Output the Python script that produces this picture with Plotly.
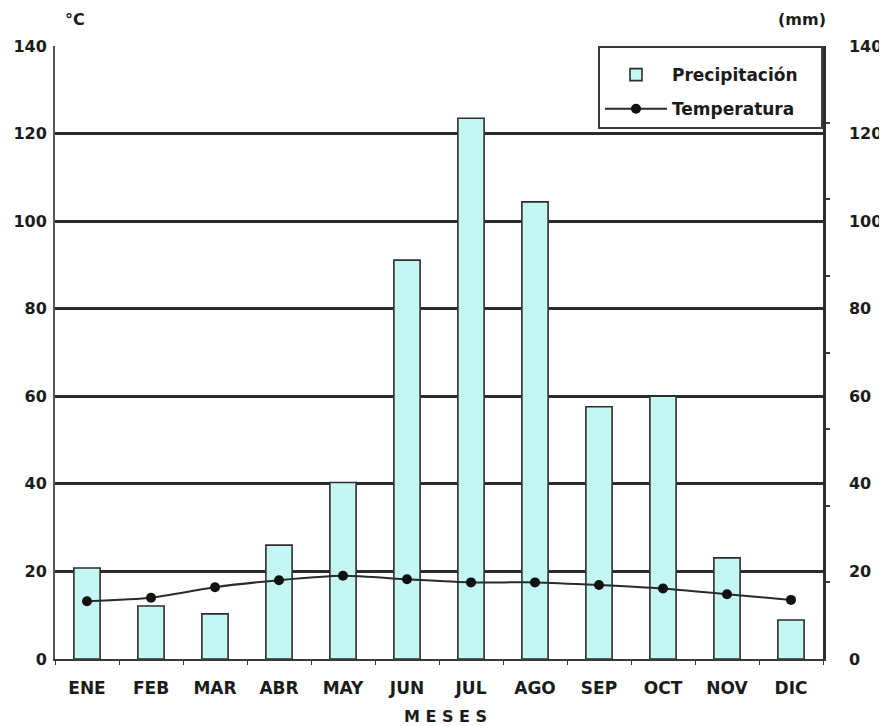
import plotly.graph_objects as go

meses = ["ENE", "FEB", "MAR", "ABR", "MAY", "JUN", "JUL", "AGO", "SEP", "OCT", "NOV", "DIC"]
precipitacion = [20.8, 12.1, 10.3, 26.0, 40.3, 91.1, 123.5, 104.4, 57.6, 60.0, 23.1, 8.9]
temperatura = [13.2, 14.0, 16.4, 18.0, 19.0, 18.2, 17.5, 17.5, 16.9, 16.1, 14.8, 13.5]
ticks_y = [0, 20, 40, 60, 80, 100, 120, 140]
ticks_menores_der = [17.5, 35, 52.5, 70, 87.5, 105, 122.5]

FONT = "DejaVu Sans"
DARK = "#1b1b1b"

# page has an 8px body margin; figure sized so that it fills the window
W, H = 879, 718
ML, MR, MT, MB = 47, 64, 38, 67
OFF = 8

fig = go.Figure()
fig.add_trace(go.Bar(
    x=meses, y=precipitacion, name="Precipitación\u00a0\u00a0\u00a0", legendgroup="p",
    marker=dict(color="#c4f6f3", line=dict(color="#2e2e2e", width=1.6)),
    width=0.41,
))
fig.add_trace(go.Scatter(
    x=meses, y=temperatura, name="Temperatura", mode="lines+markers", legendgroup="t",
    line=dict(color="#2a2a2a", width=2, shape="spline", smoothing=0.6),
    marker=dict(color="#111111", size=10),
))
fig.add_trace(go.Scatter(x=meses, y=[None] * 12, yaxis="y2", showlegend=False, hoverinfo="skip"))

tickfont = dict(family=FONT, size=16, color=DARK, weight="bold")
xtickfont = dict(family=FONT, size=17, color=DARK, weight="bold")

fig.update_layout(
    width=W, height=H,
    margin=dict(l=ML, r=MR, t=MT, b=MB, autoexpand=False),
    plot_bgcolor="white", paper_bgcolor="white",
    xaxis=dict(
        type="category", showgrid=False, showline=True, linecolor="#3a3a3a", linewidth=2,
        ticks="outside", tickson="boundaries", ticklen=4, tickcolor="#3a3a3a",
        tickfont=xtickfont, ticklabelstandoff=13, range=[-0.5, 11.5], automargin=False,
    ),
    yaxis=dict(
        range=[0, 140], tickvals=ticks_y, showgrid=True, gridcolor="#2b2b2b", gridwidth=3,
        showline=True, linecolor="#555555", linewidth=2, ticks="", zeroline=False,
        tickfont=tickfont, ticklabelstandoff=3, automargin=False,
    ),
    yaxis2=dict(
        range=[0, 140], overlaying="y", side="right", tickvals=ticks_y, showgrid=False,
        showline=True, linecolor="#2e2e2e", linewidth=2.5, ticks="", zeroline=False,
        tickfont=tickfont, ticklabelstandoff=20, automargin=False,
        minor=dict(tickvals=ticks_menores_der, ticks="outside", ticklen=4, tickcolor="#3a3a3a", tickwidth=2),
    ),
    legend=dict(
        x=1.0, y=1.0, xanchor="right", yanchor="top",
        bgcolor="white", bordercolor="#3a3a3a", borderwidth=2,
        font=dict(family=FONT, size=17, color=DARK, weight="bold"),
        traceorder="grouped", itemwidth=62, tracegroupgap=9,
        title=dict(text="\u00a0", font=dict(size=7)),
    ),
)

def ann(text, wx, wy):
    fx, fy = wx - OFF, wy - OFF
    return dict(text=text, x=(fx - ML) / (W - ML - MR), y=(H - MB - fy) / (H - MT - MB),
                xref="paper", yref="paper", showarrow=False, xanchor="center", yanchor="middle",
                font=dict(family=FONT, size=16, color=DARK, weight="bold"))

fig.update_layout(annotations=[
    ann("°C", 75, 20),
    ann("(mm)", 802, 20),
    ann("M E S E S", 445, 716),
])

fig.write_html("out.html")
